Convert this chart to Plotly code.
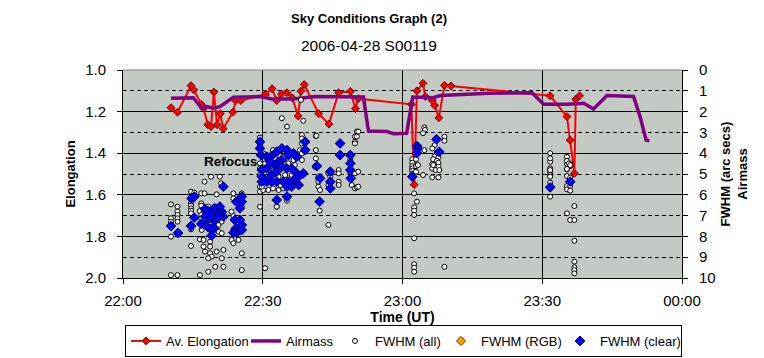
import plotly.graph_objects as go

# ---------------- data (time = minutes after 22:00 UT) ----------------
tick_minutes = [0, 30, 60, 90, 120]
tick_labels = ["22:00", "22:30", "23:00", "23:30", "00:00"]

elong_time = [10.3, 11.7, 14.6, 15.2, 16.8, 17.3, 18.2, 18.9, 19.5, 20.2, 20.9, 21.5,
              23.6, 24.2, 25.3, 30.6, 32.0, 33.0, 34.0, 35.2, 36.3, 37.6, 38.2, 38.9,
              42.0, 44.2, 46.3, 48.8, 49.9, 50.5, 61.9, 62.5, 63.1, 64.4, 64.9, 66.4,
              66.9, 67.8, 69.0, 70.4, 91.7, 95.3, 96.0, 96.9, 97.2, 98.0]
elong_value = [1.181, 1.203, 1.075, 1.095, 1.165, 1.184, 1.263, 1.272, 1.106, 1.263, 1.21, 1.282,
               1.203, 1.147, 1.147, 1.117, 1.09, 1.147, 1.115, 1.109, 1.133, 1.221, 1.102, 1.07,
               1.21, 1.26, 1.109, 1.103, 1.186, 1.138, 1.165, 1.551, 1.10, 1.064, 1.128, 1.147,
               1.17, 1.23, 1.074, 1.077, 1.124, 1.224, 1.337, 1.497, 1.141, 1.124]

airmass_time = [10.3, 15.1, 16.9, 18.0, 19.4, 20.8, 23.7, 29.4, 32.0, 36.6, 41.2, 51.6,
                52.7, 56.6, 58.1, 60.9, 62.2, 66.6, 68.1, 78.5, 87.8, 90.3, 95.3, 98.9,
                101.0, 103.9, 109.6, 111.0, 112.3, 113.0]
airmass_value = [1.36, 1.33, 1.84, 1.76, 1.84, 1.76, 1.31, 1.28, 1.39, 1.39, 1.27, 1.30,
                 2.93, 2.96, 3.06, 3.04, 1.30, 1.33, 1.23, 1.12, 1.09, 1.65, 1.65, 1.60,
                 1.88, 1.23, 1.27, 2.24, 3.37, 3.40]

fwhm_all_time = [
    10.3, 10.3, 10.3, 10.3, 10.3,
    11.7, 11.7, 11.7, 11.7, 11.7, 11.7,
    14.6, 14.6, 14.6, 14.6, 14.6, 14.6, 14.6, 14.6,
    15.3, 16.8, 17.5, 17.5, 18.9, 20.8, 20.1, 21.05,
    16.8, 16.8, 16.5, 16.8, 16.8, 16.9,
    17.3, 18.3, 19.05, 19.8, 18.7, 19.4, 20.1, 17.6, 18.7, 20.5, 21.2, 20.5, 21.2,
    16.5, 17.3, 18.7, 18.7, 17.3, 17.6, 18.7, 20.1, 21.55, 19.05, 21.2, 18.3, 19.8,
    21.55, 18.3, 16.5, 25.5, 25.5, 23.3, 23.7, 24.8, 23.7, 24.4, 23.7, 23.3, 24.8,
    25.5, 23.7, 25.5, 23.7,
    29.4, 29.4, 35.2, 38.7, 38.4, 38.4, 38.4, 38.0, 38.4, 38.4, 41.4, 41.4, 41.4, 41.2,
    41.95, 41.95, 41.95, 42.3, 44.1, 44.5, 44.1, 46.3, 46.3, 46.3, 46.3, 49.1, 49.1,
    49.8, 49.8, 49.8, 49.8, 50.2, 49.8,
    29.4, 29.4, 29.4, 29.4, 29.4, 30.1, 31.2, 32.2, 33.4, 34.4, 35.5, 36.6, 32.2, 30.1,
    33.0, 29.4, 31.2, 32.2, 33.4, 34.8, 36.2, 31.6, 32.6, 34.4, 35.5, 36.9, 30.5, 33.8,
    36.9, 29.8,
    38.2, 34.1, 41.5, 30.5, 44.1, 33.0, 35.2, 42.2,
    50.5, 50.2, 48.8, 48.8, 48.8, 50.5, 50.2, 50.5,
    62.1, 62.1, 62.1, 62.1, 62.1, 62.1, 62.9, 62.9, 62.9, 63.3, 62.5, 63.1, 62.5, 62.5,
    62.5, 62.5, 62.5, 62.5, 62.5, 64.4, 64.7, 64.8, 64.4, 64.7, 66.9, 66.4, 67.0, 67.7,
    66.6, 67.4, 67.7, 66.4, 67.7, 66.4, 67.1, 67.9, 66.4, 67.7, 69.0, 69.0, 69.0, 66.6,
    67.4,
    91.7, 91.7, 91.7, 91.7, 91.7, 91.7, 91.7, 91.7, 91.7, 91.7,
    95.3, 96.0, 95.3, 96.0, 95.3, 96.0, 95.3, 96.0, 95.3, 96.0, 96.9, 95.3, 96.0, 96.9,
    96.9, 96.9, 96.9, 96.9, 96.9, 95.3, 95.3, 95.7, 96.0, 95.3,
]
fwhm_all_value = [
    6.46, 7.13, 7.29, 8.01, 9.86,
    6.57, 6.81, 6.97, 7.13, 7.29, 9.86,
    5.85, 6.41, 6.52, 6.65, 6.76, 6.89, 7.66, 8.46,
    5.90, 5.93, 5.93, 5.37, 5.13, 5.13, 5.98, 5.45,
    6.41, 6.52, 6.78, 6.97, 7.13, 7.69,
    6.73, 6.57, 6.81, 6.57, 6.97, 7.29, 7.05, 7.45, 7.45, 7.45, 7.29, 7.77, 7.85,
    8.14, 8.17, 8.25, 8.49, 8.49, 8.73, 8.81, 8.73, 8.65, 8.97, 9.05, 9.05, 9.46,
    9.46, 9.70, 9.86, 9.62, 8.81, 8.17, 8.33, 8.17, 7.69, 7.45, 7.02, 6.81, 6.49,
    6.57, 6.17, 5.93, 5.93,
    3.25, 3.60, 2.72, 2.44, 3.12, 3.29, 3.53, 3.85, 4.01, 4.33, 3.17, 3.85, 4.25, 4.65,
    5.13, 5.37, 5.61, 5.77, 4.97, 5.13, 5.53, 4.81, 4.97, 5.37, 5.53, 5.21, 5.53,
    4.97, 5.69, 3.20, 3.45, 2.96, 3.53,
    4.49, 4.73, 5.05, 5.61, 5.85, 5.77, 5.77, 5.69, 5.77, 5.69, 5.61, 4.33, 3.85, 4.01,
    6.57, 6.57, 4.81, 4.65, 5.13, 5.05, 5.05, 5.13, 4.25, 4.17, 4.49, 4.57, 4.49, 5.53,
    5.37, 5.61,
    1.44, 2.32, 3.16, 9.53, 7.45, 6.57, 6.28, 6.76,
    2.96, 3.20, 4.33, 4.73, 4.89, 4.89, 5.64, 5.61,
    4.29, 4.46, 4.62, 4.73, 4.84, 4.97, 4.29, 4.62, 4.89, 4.57, 5.93, 6.33, 6.60, 6.76,
    6.97, 8.09, 9.34, 9.50, 9.70, 5.05, 2.76, 2.88, 3.04, 3.85, 3.61, 3.77, 4.13, 4.20,
    4.29, 4.36, 4.46, 4.52, 4.65, 4.74, 4.81, 4.81, 5.16, 5.16, 3.21, 3.40, 9.46, 4.57,
    3.97,
    4.41, 4.73, 4.93, 5.05, 5.13, 5.42, 6.09, 4.00, 4.25, 4.81,
    4.52, 4.52, 4.78, 4.62, 5.10, 5.17, 5.58, 5.58, 5.74, 5.80, 6.54, 6.89, 7.21, 7.21,
    8.21, 9.21, 9.49, 9.62, 9.78, 4.17, 4.37, 4.49, 4.57, 4.76,
]

# FWHM (RGB) has no measurements in this run (legend entry only)
fwhm_rgb_time = [None]
fwhm_rgb_value = [None]

fwhm_clear_time = [
    10.3, 11.8, 14.7, 15.3, 15.3, 14.6, 16.8, 17.6, 18.3, 19.6, 20.8, 21.55, 21.2, 20.5,
    18.3, 19.6, 20.5, 18.3, 19.05, 19.6, 19.05, 21.55, 17.6, 18.7, 24.3, 25.5, 25.5, 25.1,
    24.0, 25.1, 25.5, 24.3, 25.1, 24.3, 25.5, 23.7,
    29.4, 29.4, 29.6, 30.9, 31.9, 33.0, 34.1, 35.2, 35.5, 36.6, 37.3, 34.1, 33.4, 32.6,
    31.6, 30.9, 29.8, 29.8, 30.5, 29.8, 30.9, 31.9, 33.0, 34.1, 35.2, 36.2, 37.3, 38.7,
    37.7, 36.6, 35.5, 34.4, 33.0, 31.9, 37.7, 36.2, 35.2, 33.0, 35.2, 39.1, 39.1, 41.6,
    42.3, 44.5, 44.5, 44.5, 42.2, 46.6, 46.6, 48.8, 48.8, 48.8, 48.9,
    62.1, 63.1, 63.3, 63.1, 67.3, 67.9, 91.7, 96.0,
]
fwhm_clear_value = [
    7.50, 7.84, 6.17, 6.09, 7.10, 7.50, 7.40, 6.68, 6.78, 6.65, 6.57, 7.05, 6.81, 6.89,
    7.21, 7.21, 7.10, 7.56, 7.66, 7.61, 7.96, 5.61, 7.05, 6.97, 6.33, 6.09, 6.33, 6.65,
    7.21, 7.21, 7.45, 7.61, 7.69, 7.82, 7.69, 7.82,
    3.45, 3.77, 4.09, 4.17, 4.13, 3.93, 3.77, 3.85, 4.09, 4.01, 4.17, 4.33, 4.41, 4.57,
    4.41, 4.73, 4.81, 5.13, 5.29, 5.37, 5.37, 5.05, 4.89, 4.65, 4.73, 4.73, 4.97, 4.97,
    5.13, 5.29, 5.37, 5.37, 5.37, 5.37, 5.53, 5.61, 5.61, 6.25, 6.09, 3.45, 3.85, 4.62,
    5.21, 4.89, 5.37, 5.69, 6.33, 3.53, 4.09, 4.09, 4.49, 4.81, 5.21,
    5.13, 3.65, 3.77, 4.00, 3.33, 3.94, 5.64, 5.37,
]

refocus_label = "Refocus"

# ---------------- figure ----------------
FONT = "Liberation Sans, Arial, sans-serif"
# the page body has an 8px default margin, so the figure is drawn 8px smaller
W, H = 756, 350
ML, MR, MT, MB = 115, 82, 62, 80

fig = go.Figure()

fig.add_trace(go.Scatter(
    x=elong_time, y=elong_value, name="Av. Elongation", mode="lines+markers",
    line=dict(color="#ff0000", width=2),
    marker=dict(symbol="diamond", size=6, color="#ff0000", line=dict(color="#600000", width=1)),
    legendwidth=75, yaxis="y"))

fig.add_trace(go.Scatter(
    x=airmass_time, y=airmass_value, name="Airmass", mode="lines",
    line=dict(color="#800080", width=3.5), legendwidth=44, yaxis="y2"))

fig.add_trace(go.Scatter(
    x=fwhm_all_time, y=fwhm_all_value, name="FWHM (all)", mode="markers",
    marker=dict(symbol="circle", size=5, color="white", line=dict(color="black", width=1)),
    legendwidth=61, yaxis="y2"))

fig.add_trace(go.Scatter(
    x=fwhm_rgb_time, y=fwhm_rgb_value, name="FWHM (RGB)", mode="markers",
    marker=dict(symbol="diamond", size=7, color="#ff9900", line=dict(color="#604000", width=1)),
    legendwidth=74, yaxis="y2"))

fig.add_trace(go.Scatter(
    x=fwhm_clear_time, y=fwhm_clear_value, name="FWHM (clear)", mode="markers",
    marker=dict(symbol="diamond", size=7.5, color="#0000ff", line=dict(color="#000060", width=1)),
    legendwidth=76, yaxis="y2"))

plot_w = W - ML - MR
plot_h = H - MT - MB

fig.update_layout(
    width=W, height=H,
    margin=dict(l=ML, r=MR, t=MT, b=MB, autoexpand=False),
    paper_bgcolor="white",
    plot_bgcolor="#c3c9c3",
    font=dict(family=FONT, size=15, color="black"),
    showlegend=True,
    legend=dict(orientation="h", x=2 / plot_w, xanchor="left",
                y=-(317 - 270) / plot_h, yanchor="top",
                bgcolor="white", bordercolor="black", borderwidth=1,
                font=dict(family=FONT, size=13, color="black"),
                itemwidth=30, tracegroupgap=0),
    xaxis=dict(range=[0, 120], tickmode="array", tickvals=tick_minutes, ticktext=tick_labels,
               showgrid=True, gridcolor="black", gridwidth=1, zeroline=False,
               showline=True, linecolor="black", linewidth=1,
               ticks="outside", ticklen=5, tickcolor="black", ticklabelstandoff=4,
               automargin=False,
               title=dict(text="<b>Time (UT)</b>", font=dict(size=14), standoff=2)),
    yaxis=dict(range=[2.0, 1.0], tickmode="array", tickvals=[1.0, 1.2, 1.4, 1.6, 1.8, 2.0],
               tickformat=".1f", showgrid=True, gridcolor="black", gridwidth=1, zeroline=False,
               showline=True, linecolor="black", linewidth=1,
               ticks="outside", ticklen=5, tickcolor="black", ticklabelstandoff=8,
               automargin=False,
               minor=dict(tickmode="array", tickvals=[1.1, 1.3, 1.5, 1.7, 1.9], showgrid=True,
                          gridcolor="black", griddash="4px,3px", gridwidth=1, ticks=""),
               title=dict(text="<b>Elongation</b>", font=dict(size=13), standoff=6)),
    yaxis2=dict(range=[10, 0], overlaying="y", side="right", tickmode="linear", tick0=0, dtick=1,
                showgrid=False, zeroline=False, showline=True, linecolor="black", linewidth=1,
                ticks="outside", ticklen=5, tickcolor="black", ticklabelstandoff=8,
                automargin=False,
                title=dict(text="<b>FWHM (arc secs)<br>Airmass</b>", font=dict(size=13), standoff=6)),
    shapes=[dict(type="line", xref="paper", yref="paper", x0=0, x1=1, y0=1, y1=1,
                 line=dict(color="#808080", width=1))],
    annotations=[
        dict(text="<b>Sky Conditions Graph (2)</b>", xref="paper", yref="paper",
             x=(369 - 123) / plot_w, y=1 + (70 - 18) / plot_h, xanchor="center", yanchor="middle",
             showarrow=False, font=dict(size=13)),
        dict(text="2006-04-28 S00119", xref="paper", yref="paper",
             x=(369 - 123) / plot_w, y=1 + (70 - 45) / plot_h, xanchor="center", yanchor="middle",
             showarrow=False, font=dict(size=15.5)),
        dict(text="<b>" + refocus_label + "</b>", x=29.2, y=1.44, xref="x", yref="y",
             xanchor="right", yanchor="middle", showarrow=False, font=dict(size=13.5)),
    ],
)

fig.write_html("out.html")
